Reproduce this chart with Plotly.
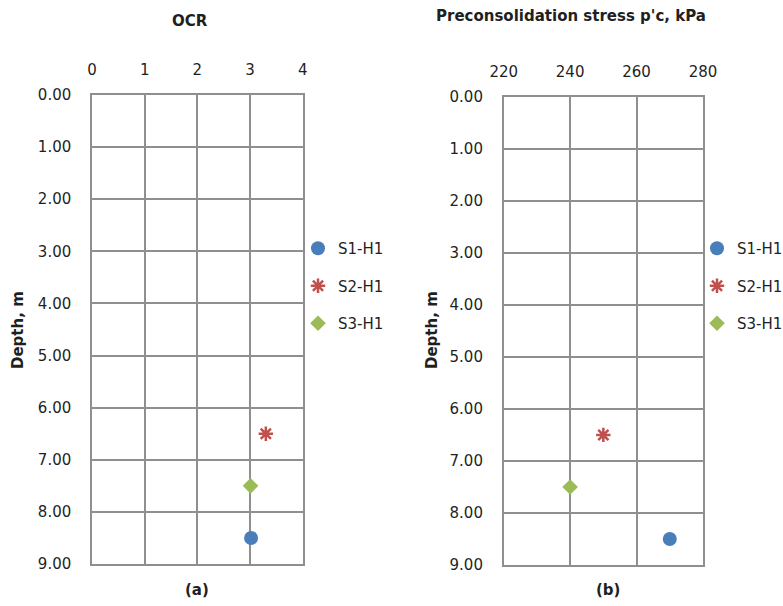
import plotly.graph_objects as go

# Sample depths and test results
series = ["S1-H1", "S2-H1", "S3-H1"]
depth_m = [8.5, 6.5, 7.5]
ocr = [3.02, 3.3, 3.01]
pc_kpa = [270, 250, 240]

colors = ["#4A7EBB", "#C0504D", "#9BBB59"]
symbols = ["circle", "asterisk-open", "diamond"]
sizes = [14, 12, 12]

FONT = "DejaVu Sans"
TXT = "#1f1f1f"
GRID = "#8f8f8f"

W, H = 783, 606
ML, MR, MT, MB = 92, 80, 95, 41
PW, PH = W - ML - MR, H - MT - MB


def px_x(v):
    return (v - ML) / PW


def px_y(v):
    return 1 - (v - MT) / PH


fig = go.Figure()

for i, name in enumerate(series):
    mk = dict(color=colors[i], size=sizes[i], symbol=symbols[i],
              line=dict(color=colors[i], width=2.5 if symbols[i] == "asterisk-open" else 0))
    fig.add_trace(go.Scatter(x=[ocr[i]], y=[depth_m[i]], mode="markers", name=name,
                             marker=mk, xaxis="x", yaxis="y", legend="legend",
                             legendgroup="a" + name))
    fig.add_trace(go.Scatter(x=[pc_kpa[i]], y=[depth_m[i]], mode="markers", name=name,
                             marker=mk, xaxis="x2", yaxis="y2", legend="legend2",
                             legendgroup="b" + name))

axis_common = dict(showgrid=True, gridcolor=GRID, gridwidth=1.5, showline=True,
                   linecolor=GRID, linewidth=1.5, mirror=True, zeroline=False,
                   ticks="", tickfont=dict(family=FONT, size=15, color=TXT))

legend_common = dict(xanchor="left", yanchor="top", tracegroupgap=15, itemwidth=30,
                     font=dict(family=FONT, size=15, color=TXT),
                     bgcolor="rgba(0,0,0,0)")

fig.update_layout(
    width=W, height=H,
    margin=dict(l=ML, r=MR, t=MT, b=MB, autoexpand=False),
    paper_bgcolor="white", plot_bgcolor="white",
    font=dict(family=FONT, color=TXT),
    xaxis=dict(domain=[0, px_x(302.7)], range=[0, 4], dtick=1, side="top",
               anchor="y", ticklabelstandoff=12, **axis_common),
    yaxis=dict(domain=[px_y(564), 1], range=[9, 0], dtick=1, tickformat=".2f",
               anchor="x", ticklabelstandoff=16, **axis_common),
    xaxis2=dict(domain=[px_x(503.7), 1], range=[220, 280], dtick=20, side="top",
                anchor="y2", ticklabelstandoff=12, **axis_common),
    yaxis2=dict(domain=[0, px_y(96.7)], range=[9, 0], dtick=1, tickformat=".2f",
                anchor="x2", ticklabelstandoff=16, **axis_common),
    legend=dict(x=px_x(298), y=px_y(232), **legend_common),
    legend2=dict(x=px_x(697), y=px_y(232), **legend_common),
    showlegend=True,
)

annotations = [
    dict(text="<b>OCR</b>", x=190, y=21),
    dict(text="<b>Preconsolidation stress p'c, kPa</b>", x=571, y=16),
    dict(text="<b>Depth, m</b>", x=18, y=330, textangle=-90),
    dict(text="<b>Depth, m</b>", x=432, y=330, textangle=-90),
    dict(text="<b>(a)</b>", x=197, y=590),
    dict(text="<b>(b)</b>", x=608, y=590),
]
for a in annotations:
    fig.add_annotation(xref="paper", yref="paper", xanchor="center", yanchor="middle",
                       showarrow=False, text=a["text"], x=px_x(a["x"]), y=px_y(a["y"]),
                       textangle=a.get("textangle", 0),
                       font=dict(family=FONT, size=15, color=TXT))

fig.write_html("out.html")
